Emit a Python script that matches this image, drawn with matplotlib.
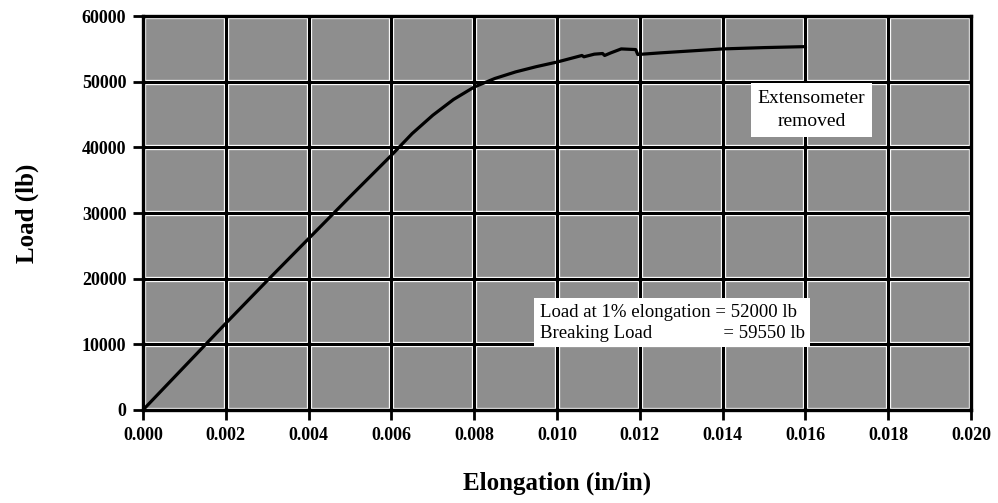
import numpy as np
import matplotlib.pyplot as plt

# load-elongation curve
elongation = [0.0, 0.001, 0.002, 0.003, 0.004, 0.005, 0.006, 0.0065, 0.007,
              0.0075, 0.008, 0.0085, 0.009, 0.0095, 0.010, 0.0103, 0.0106,
              0.01065, 0.0109, 0.0111, 0.01115, 0.0113, 0.01155, 0.0119,
              0.01195, 0.0125, 0.013, 0.014, 0.015, 0.016]
load = [0, 6600, 13200, 19700, 26100, 32500, 38800, 42100, 44900,
        47300, 49200, 50500, 51500, 52300, 53000, 53500, 54000,
        53800, 54200, 54300, 54000, 54400, 55000, 54900,
        54150, 54400, 54600, 55000, 55200, 55350]

x_ticks = [0.000, 0.002, 0.004, 0.006, 0.008, 0.010, 0.012, 0.014, 0.016, 0.018, 0.020]
y_ticks = [0, 10000, 20000, 30000, 40000, 50000, 60000]

note_extenso = "Extensometer\nremoved"
note_loads = "Load at 1% elongation = 52000 lb\nBreaking Load               = 59550 lb"

serif = ["Liberation Serif", "DejaVu Serif"]

fig = plt.figure(figsize=(9.98, 5.03), dpi=100)
ax = fig.add_axes([0.1433, 0.185, 0.8297, 0.783])
ax.set_facecolor("#8e8e8e")

# scanned look: thin white halo around the black grid lines
for xv in x_ticks:
    ax.axvline(xv, color="white", lw=3.8, zorder=1)
    ax.axvline(xv, color="black", lw=2.2, zorder=2)
for yv in y_ticks:
    ax.axhline(yv, color="white", lw=3.8, zorder=1)
    ax.axhline(yv, color="black", lw=2.2, zorder=2)

ax.plot(elongation, load, color="black", lw=2.3, zorder=3)

ax.set_xlim(0, 0.020)
ax.set_ylim(0, 60000)
ax.set_xticks(x_ticks)
ax.set_xticklabels(["%.3f" % v for v in x_ticks])
ax.set_yticks(y_ticks)
ax.set_yticklabels([str(v) for v in y_ticks])
ax.tick_params(direction="out", length=7, width=2, color="black", pad=5)
for lab in ax.get_xticklabels() + ax.get_yticklabels():
    lab.set_family(serif)
    lab.set_fontweight("bold")
    lab.set_fontsize(13)

for s in ax.spines.values():
    s.set_linewidth(2.4)
    s.set_color("black")
    s.set_zorder(4)

ax.set_xlabel("Elongation (in/in)", family=serif, fontweight="bold",
              fontsize=18, labelpad=20)
ax.set_ylabel("Load (lb)", family=serif, fontweight="bold",
              fontsize=18, labelpad=31)

ax.text(0.01615, 45700, note_extenso, family=serif, fontsize=14,
        ha="center", va="center", linespacing=1.4, zorder=5,
        bbox=dict(facecolor="white", edgecolor="none", pad=5))
ax.text(0.00958, 13300, note_loads, family=serif, fontsize=13.5,
        ha="left", va="center", linespacing=1.3, zorder=5,
        bbox=dict(facecolor="white", edgecolor="none", pad=4))

fig.savefig("out.png", dpi=100)
